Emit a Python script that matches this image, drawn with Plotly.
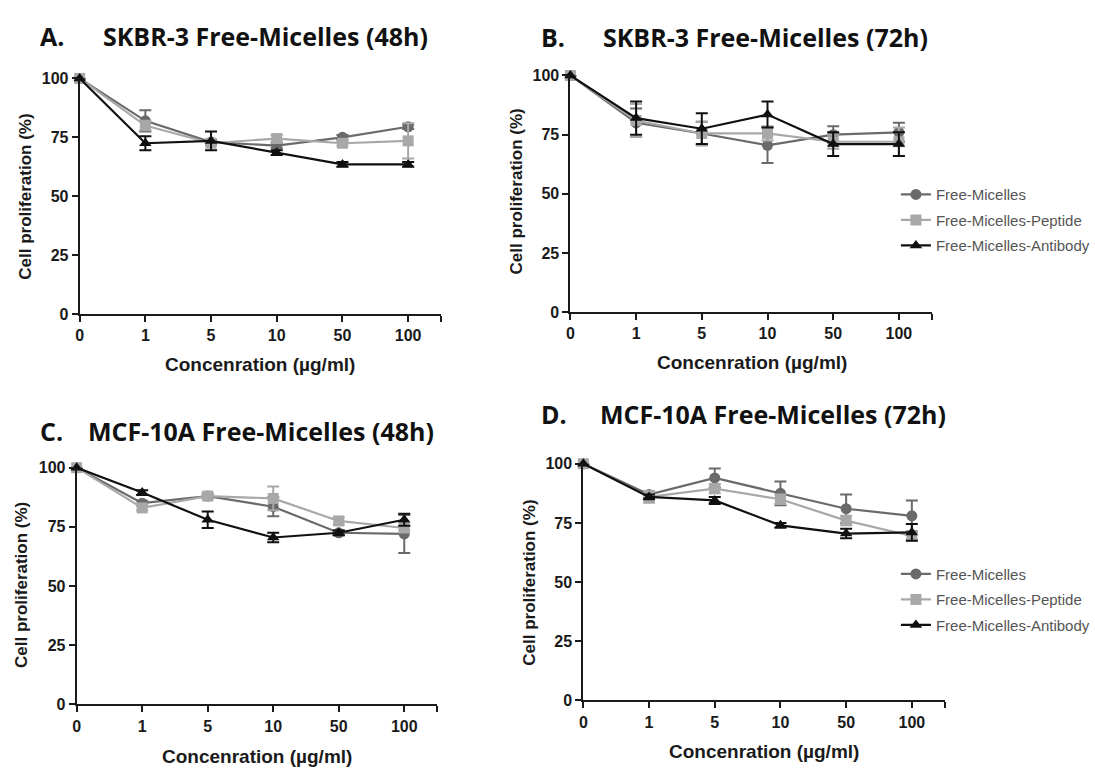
import plotly.graph_objects as go

W, H = 1095, 774
conc_labels = ["0", "1", "5", "10", "50", "100"]
series_names = ["Free-Micelles", "Free-Micelles-Peptide", "Free-Micelles-Antibody"]

# Panel A: SKBR-3 48h
a_free = [100, 82, 73, 71.5, 75, 79.5]
a_free_err = [0, 4.5, 1, 1, 1, 1]
a_pep = [100, 80, 72.5, 74.5, 72.5, 73.5]
a_pep_err = [0, 2, 1, 1.5, 1, 7.5]
a_ab = [100, 72.5, 73.5, 68.5, 63.5, 63.5]
a_ab_err = [0, 3, 4, 1, 1, 1]

# Panel B: SKBR-3 72h
b_free = [100, 80, 75.5, 70.5, 75, 76]
b_free_err = [0, 6, 5, 7.5, 3.5, 4]
b_pep = [100, 81, 75.5, 75.5, 72, 72]
b_pep_err = [0, 7, 5, 3, 3, 6]
b_ab = [100, 82, 77.5, 83.5, 71, 71]
b_ab_err = [0, 7, 6.5, 5.5, 5, 5]

# Panel C: MCF-10A 48h
c_free = [100, 85, 88, 83.5, 72.5, 72]
c_free_err = [0, 1, 1, 4, 1, 8]
c_pep = [100, 83, 88, 87, 77.5, 74.5]
c_pep_err = [0, 1, 1, 5, 1.5, 1]
c_ab = [100, 89.5, 78, 70.5, 72.5, 78]
c_ab_err = [0, 1, 3.5, 2, 1, 2.5]

# Panel D: MCF-10A 72h
d_free = [100, 87, 94, 87.5, 81, 78]
d_free_err = [0, 1.5, 4, 5, 6, 6.5]
d_pep = [100, 86, 89.5, 85, 76, 69.5]
d_pep_err = [0, 2.5, 2, 2, 2, 1.5]
d_ab = [100, 86, 84.5, 74, 70.5, 71]
d_ab_err = [0, 1, 1.5, 1, 2, 3.5]

colors = ["#6a6a6a", "#a8a8a8", "#101010"]
symbols = ["circle", "square", "triangle-up"]

panels = [
    dict(letter="A.", title="SKBR-3 Free-Micelles (48h)",
         data=[(a_free, a_free_err), (a_pep, a_pep_err), (a_ab, a_ab_err)],
         px=(76, 439), py=(72, 313), legend=None,
         letter_xy=(34, 29), title_xy=(97, 29),
         xt=(257, 365), yt=(22, 193)),
    dict(letter="B.", title="SKBR-3 Free-Micelles (72h)",
         data=[(b_free, b_free_err), (b_pep, b_pep_err), (b_ab, b_ab_err)],
         px=(569, 932), py=(69, 311), legend="legend",
         letter_xy=(537, 30), title_xy=(600, 30),
         xt=(751, 362), yt=(515, 188)),
    dict(letter="C.", title="MCF-10A Free-Micelles (48h)",
         data=[(c_free, c_free_err), (c_pep, c_pep_err), (c_ab, c_ab_err)],
         px=(73, 435), py=(470, 712), legend=None,
         letter_xy=(34, 433), title_xy=(82, 433),
         xt=(254, 765), yt=(17, 590)),
    dict(letter="D.", title="MCF-10A Free-Micelles (72h)",
         data=[(d_free, d_free_err), (d_pep, d_pep_err), (d_ab, d_ab_err)],
         px=(582, 945), py=(466, 708), legend="legend2",
         letter_xy=(537, 415), title_xy=(597, 415),
         xt=(763, 760), yt=(527, 588)),
]

fig = go.Figure()
xpos = list(range(len(conc_labels)))
annotations = []
axfont = dict(family="Liberation Sans, Arial, sans-serif", size=16, color="#1a1a1a", weight="bold")
tfont = dict(family="Open Sans, Noto Sans, sans-serif", size=25, color="#111111", weight="bold")
xtfont = dict(family="Liberation Sans, Arial, sans-serif", size=19, color="#1a1a1a", weight="bold")
ytfont = dict(family="Liberation Sans, Arial, sans-serif", size=17, color="#1a1a1a", weight="bold")

for i, p in enumerate(panels):
    n = i + 1
    xa = "x" if n == 1 else f"x{n}"
    ya = "y" if n == 1 else f"y{n}"
    for j, (vals, errs) in enumerate(p["data"]):
        if p["legend"]:
            kw = dict(showlegend=True, legend=p["legend"], legendgroup=f"g{n}{j}")
        else:
            kw = dict(showlegend=False)
        fig.add_trace(go.Scatter(
            x=xpos, y=vals, name=series_names[j], xaxis=xa, yaxis=ya,
            mode="lines+markers",
            line=dict(color=colors[j], width=2.2),
            marker=dict(symbol=symbols[j], size=11, color=colors[j]),
            error_y=dict(type="data", array=errs, visible=True, color=colors[j],
                         thickness=2, width=6),
            cliponaxis=False, **kw))
    xd = [p["px"][0] / W, p["px"][1] / W]
    yd = [1 - p["py"][1] / H, 1 - p["py"][0] / H]
    common = dict(showgrid=False, zeroline=False, showline=True, linecolor="#1a1a1a",
                  linewidth=2, ticks="outside", ticklen=6, tickwidth=2, tickcolor="#1a1a1a",
                  tickfont=axfont)
    fig.layout[f"xaxis{'' if n == 1 else n}"] = dict(
        domain=xd, anchor=ya, range=[0, 5.5],
        tickvals=xpos + [5.5], ticktext=conc_labels + [""], **common)
    fig.layout[f"yaxis{'' if n == 1 else n}"] = dict(
        domain=yd, anchor=xa, range=[0, 100],
        tickvals=[0, 25, 50, 75, 100], **common)
    annotations.append(dict(text=p["letter"], x=p["letter_xy"][0] / W, y=1 - p["letter_xy"][1] / H,
                            xref="paper", yref="paper", xanchor="left", yanchor="middle",
                            showarrow=False, font=tfont))
    annotations.append(dict(text=p["title"], x=p["title_xy"][0] / W, y=1 - p["title_xy"][1] / H,
                            xref="paper", yref="paper", xanchor="left", yanchor="middle",
                            showarrow=False, font=tfont))
    annotations.append(dict(text="Concenration (µg/ml)", x=p["xt"][0] / W, y=1 - p["xt"][1] / H,
                            xref="paper", yref="paper", xanchor="center", yanchor="middle",
                            showarrow=False, font=xtfont))
    annotations.append(dict(text="Cell proliferation (%)", x=p["yt"][0] / W, y=1 - p["yt"][1] / H,
                            xref="paper", yref="paper", xanchor="center", yanchor="middle",
                            textangle=-90, showarrow=False, font=ytfont))

legfont = dict(family="Liberation Sans, Arial, sans-serif", size=15, color="#555555")
leg_common = dict(xref="paper", yref="paper", xanchor="left", yanchor="top",
                  font=legfont, bgcolor="rgba(0,0,0,0)", tracegroupgap=3,
                  itemwidth=30)
fig.update_layout(
    width=W, height=H, margin=dict(l=0, r=0, t=0, b=0),
    paper_bgcolor="white", plot_bgcolor="white",
    annotations=annotations,
    legend=dict(x=896 / W, y=1 - 174 / H, **leg_common),
    legend2=dict(x=896 / W, y=1 - 562 / H, **leg_common),
)

fig.write_html("out.html")
